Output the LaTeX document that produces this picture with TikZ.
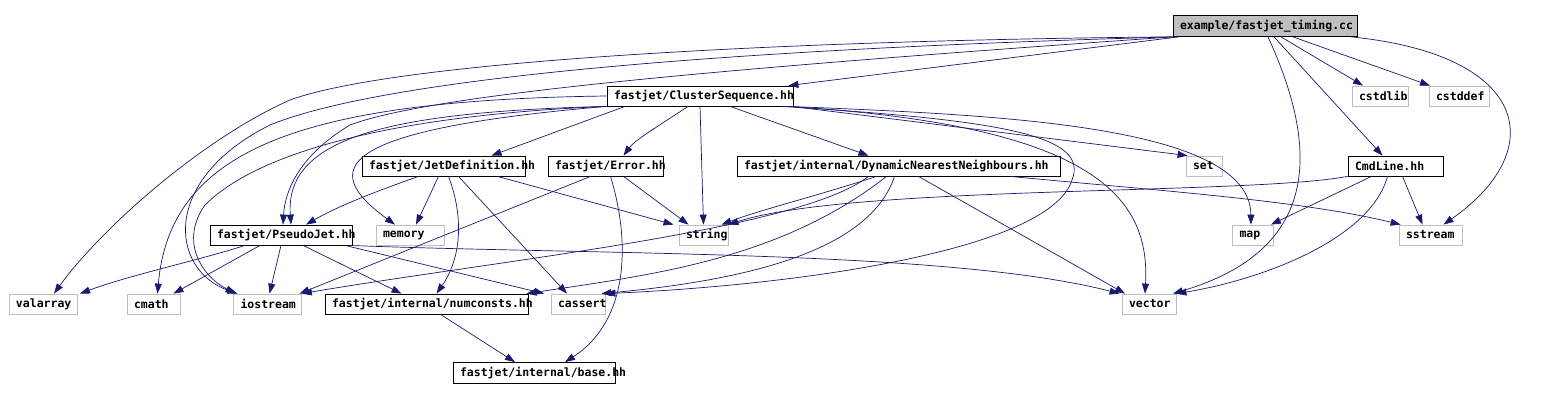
\documentclass[tikz,border=0pt]{standalone}
\usepackage{fontspec}
\setmonofont{DejaVu Sans Mono}
\usetikzlibrary{arrows.meta}
\definecolor{edgeblue}{HTML}{191970}
\definecolor{sysgray}{HTML}{BFBFBF}
\tikzset{>={Triangle[length=10pt,width=7pt]}}
\tikzset{
  hdr/.style={draw=black,fill=white,line width=0.8pt,inner xsep=7pt,inner ysep=0pt,
    minimum height=20pt,align=left,font=\ttfamily\bfseries\fontsize{11.5}{13}\selectfont},
  sysinc/.style={hdr,draw=sysgray},
  dep/.style={->,edgeblue,line width=0.7pt}
}

\begin{document}
\begin{tikzpicture}[x=1pt,y=-1pt]
  \useasboundingbox (0,0) rectangle (1544,401);
  % source file
  \node[hdr,fill=sysgray,minimum height=21pt,text width=170pt] (timing) at (1265,26) {example/fastjet\_timing.cc};
  % first level
  \node[hdr,text width=172pt] (cs) at (700,96) {fastjet/ClusterSequence.hh};
  \node[sysinc,text width=42pt] (cstdlib) at (1380,96) {cstdlib};
  \node[sysinc,text width=46pt] (cstddef) at (1459,96) {cstddef};
  % second level
  \node[hdr,text width=149pt] (jetdef) at (443.5,166) {fastjet/JetDefinition.hh};
  \node[hdr,text width=101pt] (error) at (605.5,166) {fastjet/Error.hh};
  \node[hdr,text width=309pt] (dnn) at (898.5,166) {fastjet/internal/DynamicNearestNeighbours.hh};
  \node[sysinc,text width=22pt] (set) at (1204,166) {set};
  \node[hdr,text width=81pt] (cmdline) at (1395.5,166) {CmdLine.hh};
  % third level
  \node[hdr,text width=128pt] (pseudojet) at (281,235) {fastjet/PseudoJet.hh};
  \node[sysinc,text width=54pt] (memory) at (410,235) {memory};
  \node[sysinc,text width=35pt] (string) at (703.5,235) {string};
  \node[sysinc,text width=27pt] (map) at (1253,235) {map};
  \node[sysinc,text width=49pt] (sstream) at (1430.5,235) {sstream};
  % fourth level
  \node[sysinc,text width=54pt] (valarray) at (43,304) {valarray};
  \node[sysinc,text width=39pt] (cmath) at (153.5,304) {cmath};
  \node[sysinc,text width=54pt] (iostream) at (267.5,304) {iostream};
  \node[hdr,text width=189pt] (numconsts) at (426.5,304) {fastjet/internal/numconsts.hh};
  \node[sysinc,text width=40pt] (cassert) at (578,304) {cassert};
  \node[sysinc,text width=40pt] (vector) at (1149,304) {vector};
  % bottom
  \node[hdr,minimum height=21pt,text width=148pt] (base) at (534,373) {fastjet/internal/base.hh};

  % includes of the source file
  \draw[dep] (timing.south west) .. controls (800,40) and (400,60) .. (290,100)
    .. controls (200,140) and (100,230) .. ([xshift=11pt]valarray.north);
  \draw[dep] (timing.south west) .. controls (700,50) and (380,80) .. (270,125)
    .. controls (160,180) and (170,270) .. ([xshift=-30pt]iostream.north);
  \draw[dep] (timing.south west) .. controls (700,70) and (430,95) .. (350,125)
    .. controls (300,155) and (285,190) .. ([xshift=2pt]pseudojet.north);
  \draw[dep] ([xshift=6pt]timing.south west) -- ([xshift=-5pt]cs.north east);
  \draw[dep] ([xshift=16pt]timing.south) -- ([xshift=-17pt]cstdlib.north);
  \draw[dep] ([xshift=28pt]timing.south) -- ([xshift=-29pt]cstddef.north);
  \draw[dep] ([xshift=9pt]timing.south) -- ([xshift=-13pt]cmdline.north);
  \draw[dep] ([xshift=3pt]timing.south) .. controls (1320,150) and (1320,250) .. ([xshift=24pt]vector.north);
  \draw[dep] ([xshift=-6pt]timing.south east) .. controls (1530,55) and (1550,150) .. ([xshift=13pt]sstream.north);

  % ClusterSequence.hh
  \draw[dep] ([xshift=-75pt]cs.south) -- ([xshift=48pt]jetdef.north);
  \draw[dep] ([xshift=-12pt]cs.south) .. controls (660,125) and (635,140) .. ([xshift=18pt]error.north);
  \draw[dep] (cs.south) -- (string.north);
  \draw[dep] ([xshift=30pt]cs.south) -- ([xshift=-30pt]dnn.north);
  \draw[dep] ([xshift=-2pt]cs.south east) -- ([xshift=2pt]set.north west);
  \draw[dep] ([xshift=-5pt]cs.south east) .. controls (1000,115) and (1250,125) .. ([xshift=-2pt]map.north);
  \draw[dep] ([xshift=-8pt]cs.south east) .. controls (1100,125) and (1150,200) .. ([xshift=-4pt]vector.north);
  \draw[dep] ([xshift=-12pt]cs.south east) .. controls (1000,120) and (1090,135) .. (1072,180)
    .. controls (1050,250) and (800,285) .. (cassert.north east);
  \draw[dep] (cs.south west) .. controls (380,112) and (285,140) .. ([xshift=10pt]pseudojet.north);
  \draw[dep] (cs.south west) .. controls (400,115) and (260,150) .. (205,205)
    .. controls (180,240) and (200,275) .. ([xshift=-32pt]iostream.north);
  \draw[dep] (cs.west) .. controls (300,100) and (170,150) .. ([xshift=4pt]cmath.north);
  \draw[dep] (cs.south west) .. controls (330,130) and (320,170) .. ([xshift=-15pt]memory.north);

  % JetDefinition.hh
  \draw[dep] ([xshift=-25pt]jetdef.south) .. controls (380,190) and (340,205) .. ([xshift=25pt]pseudojet.north);
  \draw[dep] ([xshift=-5pt]jetdef.south) -- ([xshift=6pt]memory.north);
  \draw[dep] ([xshift=5pt]jetdef.south) .. controls (465,220) and (460,260) .. ([xshift=10pt]numconsts.north);
  \draw[dep] ([xshift=15pt]jetdef.south) -- ([xshift=-11pt]cassert.north);
  \draw[dep] ([xshift=54pt]jetdef.south) -- ([xshift=-30pt]string.north);

  % Error.hh
  \draw[dep] ([xshift=-15pt]error.south) -- ([xshift=32pt]iostream.north);
  \draw[dep] ([xshift=18pt]error.south) -- ([xshift=-15pt]string.north);
  \draw[dep] ([xshift=5pt]error.south) .. controls (630,240) and (630,320) .. ([xshift=31pt]base.north);

  % DynamicNearestNeighbours.hh
  \draw[dep] ([xshift=-22pt]dnn.south) .. controls (820,195) and (760,210) .. ([xshift=18pt]string.north);
  \draw[dep] ([xshift=-30pt]dnn.south) .. controls (800,230) and (500,260) .. (iostream.north east);
  \draw[dep] ([xshift=-12pt]dnn.south) .. controls (780,260) and (650,275) .. ([xshift=-2pt]numconsts.north east);
  \draw[dep] ([xshift=-4pt]dnn.south) .. controls (870,250) and (750,280) .. ([xshift=-4pt]cassert.north east);
  \draw[dep] ([xshift=20pt]dnn.south) -- ([xshift=-24pt]vector.north);
  \draw[dep] ([xshift=112pt]dnn.south) .. controls (1150,190) and (1300,200) .. ([xshift=2pt]sstream.north west);

  % PseudoJet.hh
  \draw[dep] ([xshift=-36pt]pseudojet.south) .. controls (200,260) and (130,275) .. ([xshift=37pt]valarray.north);
  \draw[dep] ([xshift=-21pt]pseudojet.south) -- ([xshift=20pt]cmath.north);
  \draw[dep] (pseudojet.south) -- ([xshift=2pt]iostream.north);
  \draw[dep] ([xshift=22pt]pseudojet.south) -- ([xshift=-25pt]numconsts.north);
  \draw[dep] ([xshift=64pt]pseudojet.south) -- ([xshift=-34pt]cassert.north);
  \draw[dep] ([xshift=-4pt]pseudojet.south east) .. controls (600,255) and (950,250) .. ([xshift=-2pt]vector.north west);

  % numconsts.hh
  \draw[dep] ([xshift=14pt]numconsts.south) -- ([xshift=-19pt]base.north);

  % CmdLine.hh
  \draw[dep] (cmdline.south west) .. controls (1250,195) and (850,185) .. (string.north east);
  \draw[dep] ([xshift=-24pt]cmdline.south) -- ([xshift=-3pt]map.north east);
  \draw[dep] ([xshift=7pt]cmdline.south) -- ([xshift=-8pt]sstream.north);
  \draw[dep] ([xshift=-8pt]cmdline.south) .. controls (1370,240) and (1260,280) .. (vector.north east);
\end{tikzpicture}
\end{document}
